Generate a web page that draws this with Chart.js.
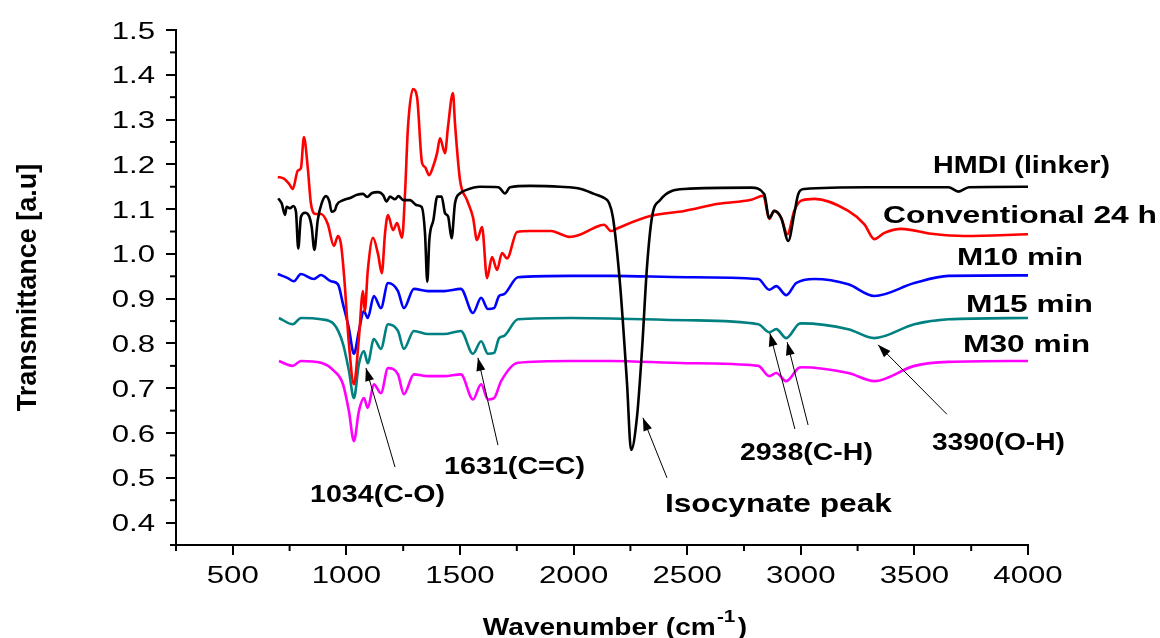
<!DOCTYPE html>
<html lang="en">
<head>
    <meta charset="UTF-8">
    <title>FTIR spectra</title>
    <script src="https://cdn.jsdelivr.net/npm/chart.js"></script>
    <style>
        body { margin: 0; background: #fff; }
    </style>
</head>
<body>
    <canvas id="grafico" width="1160" height="638"></canvas>
<script>
    // ticks
    const xTicks = [500, 1000, 1500, 2000, 2500, 3000, 3500, 4000];
    const xMinorTicks = [250, 750, 1250, 1750, 2250, 2750, 3250, 3750];
    const yTicks = [0.4, 0.5, 0.6, 0.7, 0.8, 0.9, 1.0, 1.1, 1.2, 1.3, 1.4, 1.5];
    const yMinorTicks = [0.35, 0.45, 0.55, 0.65, 0.75, 0.85, 0.95, 1.05, 1.15, 1.25, 1.35, 1.45];

    // series, [wavenumber, transmittance]
    const hmdi = [
        [700, 1.124], [715, 1.113], [730, 1.087], [737, 1.105], [752, 1.102], [766, 1.107], [778, 1.094],
        [788, 1.012], [800, 1.083], [818, 1.092], [837, 1.083], [847, 1.061], [859, 1.009], [874, 1.076],
        [891, 1.113], [910, 1.129], [925, 1.117], [935, 1.094], [950, 1.098], [957, 1.109], [986, 1.120],
        [1016, 1.125], [1047, 1.132], [1073, 1.134], [1091, 1.127], [1113, 1.136], [1139, 1.138],
        [1161, 1.132], [1177, 1.117], [1192, 1.128], [1214, 1.122], [1229, 1.129], [1251, 1.120],
        [1280, 1.120], [1309, 1.109], [1331, 1.105], [1346, 1.046], [1356, 0.938], [1365, 1.031],
        [1383, 1.076], [1400, 1.128], [1419, 1.128], [1434, 1.091], [1448, 1.083], [1463, 1.035],
        [1478, 1.113], [1500, 1.135], [1529, 1.143], [1588, 1.150], [1669, 1.149], [1698, 1.135],
        [1720, 1.149], [1808, 1.152], [1940, 1.150], [2033, 1.145], [2090, 1.134], [2134, 1.125],
        [2155, 1.115], [2173, 1.082], [2204, 0.935], [2235, 0.712], [2253, 0.562], [2279, 0.636],
        [2301, 0.785], [2323, 0.971], [2345, 1.082], [2380, 1.120], [2487, 1.145], [2782, 1.148],
        [2839, 1.134], [2861, 1.080], [2883, 1.096], [2914, 1.080], [2945, 1.029], [2971, 1.089],
        [2989, 1.134], [3015, 1.145], [3300, 1.149], [3650, 1.149], [3694, 1.139], [3740, 1.149],
        [4000, 1.150]
    ];
    const conv24h = [
        [698, 1.172], [725, 1.168], [747, 1.157], [764, 1.145], [786, 1.186], [800, 1.192], [813, 1.261],
        [830, 1.192], [844, 1.112], [866, 1.089], [888, 1.089], [918, 1.067], [945, 1.018], [963, 1.040],
        [976, 1.022], [990, 0.950], [1011, 0.800], [1033, 0.709], [1055, 0.812], [1073, 0.917],
        [1081, 0.872], [1094, 0.962], [1117, 1.036], [1139, 1.000], [1156, 0.957], [1170, 1.046],
        [1183, 1.087], [1205, 1.053], [1223, 1.069], [1245, 1.036], [1258, 1.135], [1271, 1.283],
        [1293, 1.368], [1311, 1.350], [1333, 1.203], [1346, 1.194], [1364, 1.176], [1381, 1.194],
        [1399, 1.225], [1412, 1.258], [1434, 1.225], [1447, 1.283], [1469, 1.359], [1478, 1.291],
        [1500, 1.165], [1531, 1.120], [1557, 1.082], [1575, 1.031], [1597, 1.060], [1619, 0.946],
        [1641, 0.993], [1663, 0.964], [1685, 1.002], [1707, 0.990], [1751, 1.049], [1808, 1.051],
        [1901, 1.051], [1945, 1.044], [1980, 1.038], [2033, 1.044], [2090, 1.058], [2134, 1.065],
        [2165, 1.051], [2196, 1.058], [2341, 1.085], [2487, 1.096], [2637, 1.112], [2782, 1.121],
        [2835, 1.130], [2861, 1.078], [2883, 1.096], [2914, 1.080], [2941, 1.044], [2971, 1.096],
        [3002, 1.119], [3060, 1.123], [3209, 1.096], [3280, 1.066], [3324, 1.033], [3368, 1.047],
        [3443, 1.056], [3575, 1.045], [3720, 1.040], [4000, 1.044]
    ];
    const m10 = [
        [698, 0.955], [742, 0.946], [769, 0.939], [800, 0.955], [857, 0.944], [888, 0.953], [932, 0.939],
        [963, 0.932], [985, 0.888], [1011, 0.834], [1033, 0.777], [1055, 0.828], [1077, 0.872],
        [1094, 0.857], [1121, 0.906], [1152, 0.879], [1183, 0.935], [1227, 0.917], [1253, 0.879],
        [1297, 0.922], [1359, 0.917], [1430, 0.917], [1504, 0.922], [1557, 0.868], [1593, 0.902],
        [1623, 0.877], [1650, 0.879], [1672, 0.906], [1694, 0.910], [1755, 0.948], [1989, 0.951],
        [2165, 0.951], [2500, 0.948], [2813, 0.944], [2861, 0.920], [2892, 0.928], [2936, 0.908],
        [2980, 0.935], [3060, 0.944], [3209, 0.932], [3324, 0.906], [3500, 0.935], [3650, 0.951],
        [4000, 0.952]
    ];
    const m15 = [
        [703, 0.857], [764, 0.843], [800, 0.857], [888, 0.854], [945, 0.843], [985, 0.799], [1011, 0.739],
        [1033, 0.678], [1055, 0.754], [1077, 0.783], [1094, 0.756], [1121, 0.810], [1152, 0.788],
        [1183, 0.843], [1227, 0.828], [1253, 0.788], [1297, 0.828], [1359, 0.821], [1430, 0.821],
        [1504, 0.828], [1557, 0.777], [1593, 0.805], [1623, 0.777], [1650, 0.779], [1672, 0.812],
        [1694, 0.817], [1755, 0.854], [1989, 0.857], [2500, 0.852], [2813, 0.843], [2861, 0.825],
        [2892, 0.832], [2936, 0.812], [2989, 0.843], [3002, 0.845], [3209, 0.832], [3324, 0.812],
        [3500, 0.843], [3650, 0.854], [4000, 0.857]
    ];
    const m30 = [
        [703, 0.761], [764, 0.750], [800, 0.761], [888, 0.757], [945, 0.739], [985, 0.709], [1011, 0.649],
        [1033, 0.582], [1055, 0.649], [1077, 0.678], [1094, 0.656], [1121, 0.709], [1152, 0.689],
        [1183, 0.745], [1227, 0.731], [1253, 0.687], [1297, 0.731], [1359, 0.727], [1430, 0.727],
        [1504, 0.731], [1557, 0.675], [1593, 0.709], [1623, 0.675], [1650, 0.678], [1681, 0.716],
        [1755, 0.757], [1989, 0.761], [2165, 0.761], [2500, 0.756], [2813, 0.750], [2861, 0.727],
        [2892, 0.734], [2936, 0.716], [2989, 0.745], [3002, 0.747], [3209, 0.734], [3324, 0.716],
        [3500, 0.750], [3650, 0.759], [4000, 0.761]
    ];

    // annotations (data coordinates)
    const rotulos = [
        { text: 'HMDI (linker)', x: 3582, y: 1.181, size: 23, width: 177 },
        { text: 'Conventional 24 h', x: 3362, y: 1.069, size: 23, width: 274 },
        { text: 'M10 min', x: 3687, y: 0.975, size: 23, width: 126 },
        { text: 'M15 min', x: 3727, y: 0.870, size: 23, width: 127 },
        { text: 'M30 min', x: 3714, y: 0.781, size: 23, width: 127 },
        { text: '1034(C-O)', x: 840, y: 0.446, size: 23, width: 135 },
        { text: '1631(C=C)', x: 1430, y: 0.508, size: 23, width: 141 },
        { text: '2938(C-H)', x: 2732, y: 0.540, size: 23, width: 133 },
        { text: '3390(O-H)', x: 3577, y: 0.562, size: 23, width: 133 },
        { text: 'Isocynate peak', x: 2402, y: 0.424, size: 26, width: 227 }
    ];
    const setas = [
        { de: [1214, 0.524], para: [1086, 0.745] },
        { de: [1667, 0.573], para: [1579, 0.768] },
        { de: [2411, 0.500], para: [2305, 0.634] },
        { de: [2974, 0.609], para: [2864, 0.823] },
        { de: [3032, 0.618], para: [2940, 0.803] },
        { de: [3643, 0.642], para: [3340, 0.797] }
    ];

    const fonte = "'Liberation Sans', Arial, sans-serif";
    const esticar = 1.3; // the original picture is stretched sideways

    function pontos(serie) {
        return serie.map(p => ({ x: p[0], y: p[1] }));
    }

    function serie(label, dados, cor) {
        return {
            label: label,
            data: pontos(dados),
            borderColor: cor,
            borderWidth: 2.6,
            pointRadius: 0,
            fill: false,
            cubicInterpolationMode: 'monotone'
        };
    }

    function textoEsticado(ctx, txt, x, y, sx) {
        ctx.save();
        ctx.translate(x, y);
        ctx.scale(sx, 1);
        ctx.fillText(txt, 0, 0);
        ctx.restore();
    }

    const extras = {
        id: 'extras',
        afterDraw(chart) {
            const ctx = chart.ctx;
            const sx = chart.scales.x;
            const sy = chart.scales.y;
            const area = chart.chartArea;
            ctx.save();
            ctx.strokeStyle = '#000';
            ctx.fillStyle = '#000';
            ctx.lineWidth = 2;
            // minor ticks
            xMinorTicks.forEach(v => {
                const px = sx.getPixelForValue(v);
                ctx.beginPath();
                ctx.moveTo(px, area.bottom);
                ctx.lineTo(px, area.bottom + 6);
                ctx.stroke();
            });
            yMinorTicks.forEach(v => {
                const py = sy.getPixelForValue(v);
                ctx.beginPath();
                ctx.moveTo(area.left, py);
                ctx.lineTo(area.left - 6, py);
                ctx.stroke();
            });

            // tick labels
            ctx.font = '24px ' + fonte;
            ctx.textBaseline = 'alphabetic';
            ctx.textAlign = 'left';
            xTicks.forEach(v => {
                const txt = String(v);
                const w = ctx.measureText(txt).width * esticar;
                textoEsticado(ctx, txt, sx.getPixelForValue(v) - w / 2, area.bottom + 38, esticar);
            });
            yTicks.forEach(v => {
                const txt = v.toFixed(1);
                const w = ctx.measureText(txt).width * esticar;
                textoEsticado(ctx, txt, area.left - 21 - w, sy.getPixelForValue(v) + 8.5, esticar);
            });

            // arrows
            ctx.lineWidth = 1;
            setas.forEach(s => {
                const x0 = sx.getPixelForValue(s.de[0]), y0 = sy.getPixelForValue(s.de[1]);
                const x1 = sx.getPixelForValue(s.para[0]), y1 = sy.getPixelForValue(s.para[1]);
                const ang = Math.atan2(y1 - y0, x1 - x0);
                ctx.beginPath();
                ctx.moveTo(x0, y0);
                ctx.lineTo(x1, y1);
                ctx.stroke();
                ctx.beginPath();
                ctx.moveTo(x1, y1);
                ctx.lineTo(x1 - 13 * Math.cos(ang) + 4.5 * Math.sin(ang), y1 - 13 * Math.sin(ang) - 4.5 * Math.cos(ang));
                ctx.lineTo(x1 - 13 * Math.cos(ang) - 4.5 * Math.sin(ang), y1 - 13 * Math.sin(ang) + 4.5 * Math.cos(ang));
                ctx.closePath();
                ctx.fill();
            });

            // labels
            rotulos.forEach(r => {
                ctx.font = 'bold ' + r.size + 'px ' + fonte;
                const w = ctx.measureText(r.text).width;
                textoEsticado(ctx, r.text, sx.getPixelForValue(r.x), sy.getPixelForValue(r.y), r.width / w);
            });

            // x axis title with superscript
            const k = 1.22;
            ctx.font = 'bold 23px ' + fonte;
            const t1 = 'Wavenumber (cm';
            const w1 = ctx.measureText(t1).width;
            ctx.font = 'bold 17px ' + fonte;
            const w2 = ctx.measureText('-1').width;
            ctx.font = 'bold 23px ' + fonte;
            const w3 = ctx.measureText(')').width;
            const total = (w1 + w2 + w3 + 3) * k;
            const cx = (area.left + area.right) / 2 + 13;
            const base = chart.height - 3;
            ctx.save();
            ctx.translate(cx - total / 2, base);
            ctx.scale(k, 1);
            ctx.fillText(t1, 0, 0);
            ctx.font = 'bold 17px ' + fonte;
            ctx.fillText('-1', w1 + 1, -13);
            ctx.font = 'bold 23px ' + fonte;
            ctx.fillText(')', w1 + w2 + 3, 0);
            ctx.restore();

            ctx.restore();
        }
    };

    const config = {
        type: 'line',
        data: {
            datasets: [
                serie('HMDI (linker)', hmdi, '#000000'),
                serie('Conventional 24 h', conv24h, '#ff0000'),
                serie('M10 min', m10, '#0000ff'),
                serie('M15 min', m15, '#008080'),
                serie('M30 min', m30, '#ff00ff')
            ]
        },
        options: {
            responsive: false,
            animation: false,
            layout: { padding: { left: 0, right: 132, top: 30, bottom: 0 } },
            plugins: {
                legend: { display: false },
                tooltip: { enabled: false }
            },
            scales: {
                x: {
                    type: 'linear',
                    min: 250,
                    max: 4000,
                    afterBuildTicks: scale => { scale.ticks = xTicks.map(v => ({ value: v })); },
                    afterFit: scale => { scale.height = 93; },
                    grid: { drawOnChartArea: false, color: '#000', lineWidth: 2, tickLength: 10 },
                    border: { color: '#000', width: 2 },
                    ticks: { display: false }
                },
                y: {
                    min: 0.35,
                    max: 1.5,
                    afterBuildTicks: scale => { scale.ticks = yTicks.map(v => ({ value: v })); },
                    afterFit: scale => { scale.width = 176; },
                    grid: { drawOnChartArea: false, color: '#000', lineWidth: 2, tickLength: 10 },
                    border: { color: '#000', width: 2 },
                    ticks: { display: false },
                    title: {
                        display: true,
                        text: 'Transmittance [a.u]',
                        color: '#000',
                        font: { family: fonte, size: 27, weight: 'bold' },
                        padding: { top: 12, bottom: 0 }
                    }
                }
            }
        },
        plugins: [extras]
    };

    new Chart(document.getElementById('grafico'), config);
</script>
</body>
</html>
